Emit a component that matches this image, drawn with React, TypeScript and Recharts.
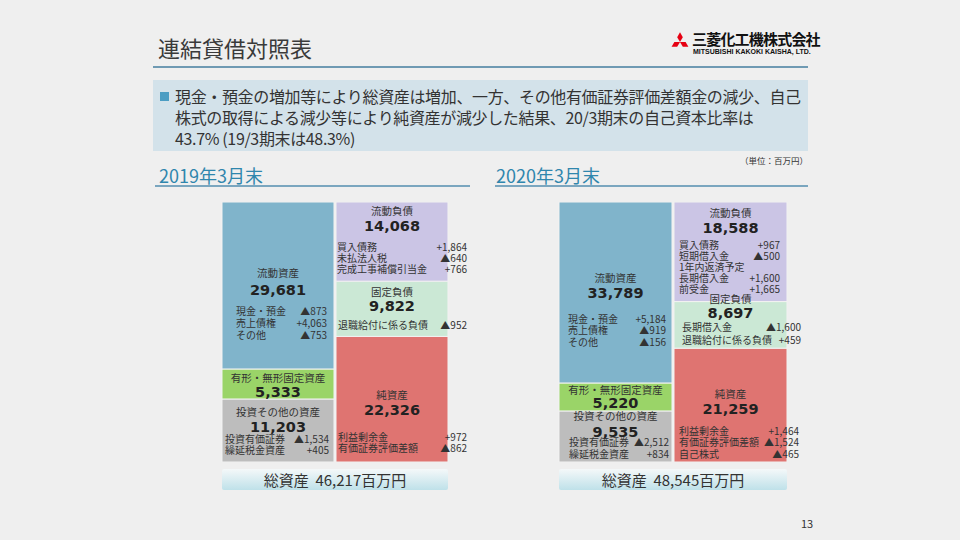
import React from 'react';
import { BarChart, Bar, XAxis, YAxis, Cell, LabelList } from 'recharts';

// 単位：百万円
const columns = ['資産', '負債・純資産'];
const assetNames = ['流動資産', '有形・無形固定資産', '投資その他の資産'];
const liabNames = ['流動負債', '固定負債', '純資産'];

const assets2019 = [29681, 5333, 11203];
const liabs2019 = [14068, 9822, 22326];
const assets2020 = [33789, 5220, 9535];
const liabs2020 = [18588, 8697, 21259];

const totals = [46217, 48545];
const periods = ['2019年3月末', '2020年3月末'];

type Note = [string, string];

const assetNotes2019: Note[][] = [
  [['現金・預金', '▲873'], ['売上債権', '+4,063'], ['その他', '▲753']],
  [],
  [['投資有価証券', '▲1,534'], ['繰延税金資産', '+405']],
];
const liabNotes2019: Note[][] = [
  [['買入債務', '+1,864'], ['未払法人税', '▲640'], ['完成工事補償引当金', '+766']],
  [['退職給付に係る負債', '▲952']],
  [['利益剰余金', '+972'], ['有価証券評価差額', '▲862']],
];
const assetNotes2020: Note[][] = [
  [['現金・預金', '+5,184'], ['売上債権', '▲919'], ['その他', '▲156']],
  [],
  [['投資有価証券', '▲2,512'], ['繰延税金資産', '+834']],
];
const liabNotes2020: Note[][] = [
  [['買入債務', '+967'], ['短期借入金', '▲500'], ['1年内返済予定', ''], ['長期借入金', '+1,600'], ['前受金', '+1,665']],
  [['長期借入金', '▲1,600'], ['退職給付に係る負債', '+459']],
  [['利益剰余金', '+1,464'], ['有価証券評価差額', '▲1,524'], ['自己株式', '▲465']],
];

const summaryLines = [
  '現金・預金の増加等により総資産は増加、一方、その他有価証券評価差額金の減少、自己',
  '株式の取得による減少等により純資産が減少した結果、20/3期末の自己資本比率は',
  '43.7% (19/3期末は48.3%)',
];

const KEYS = ['top', 'mid', 'bottom'];
const COLORS = [
  ['#80b4cb', '#9ad468', '#bdbdbd'],
  ['#cbc5e5', '#cbe8d5', '#df7471'],
];

// label placement inside each block: t = title offset from block top, v = value gap,
// g = first note gap, s = note spacing, l / r = note column insets
type Place = { t: number; v?: number; g?: number; s?: number; l?: number; r?: number };
const PLACE_2019: Place[][] = [
  [{ t: 70, v: 18, g: 38, s: 12, l: 14, r: -7 }, { t: 9, v: 14 }, { t: 13, g: 27, s: 11, l: 3, r: -5 }],
  [{ t: 8, v: 16, g: 36, s: 11, l: 1, r: 19 }, { t: 10, v: 15, g: 33, l: 2, r: 19 }, { t: 58, v: 16, g: 42, s: 11, l: 2, r: 19 }],
];
const PLACE_2020: Place[][] = [
  [{ t: 75, v: 16, g: 41, s: 11.5, l: 9, r: -6 }, { t: 7, v: 13 }, { t: 5, v: 16, g: 26, s: 12, l: 10, r: -3 }],
  [{ t: 10, v: 16, g: 32, s: 11, l: 5, r: -7 }, { t: -3, v: 14, g: 28, s: 12.5, l: 8, r: 14 }, { t: 45, v: 16, g: 37, s: 11.5, l: 5, r: 12 }],
];

const JP = "'Noto Sans CJK JP', sans-serif";

function makeRows(a: number[], b: number[]) {
  return columns.map((name, i) => {
    const v = i === 0 ? a : b;
    return { name, top: v[0], mid: v[1], bottom: v[2] };
  });
}

function BalanceChart({ rows, notes, place, total, left, width }: any) {
  const names = [assetNames, liabNames];
  const block = (seg: number) => (p: any) => {
    const { x, y, width: w, index } = p;
    const X = Number(x);
    const Y = Number(y);
    const W = Number(w);
    const pl: Place = place[index][seg];
    const cx = X + W / 2;
    const ty = Y + pl.t;
    const vy = ty + (pl.v ?? 15);
    const list: Note[] = notes[index][seg];
    const value = rows[index][KEYS[seg]];
    return (
      <g key={`lb-${index}-${seg}`} style={{ fontFamily: JP }}>
        <text x={cx} y={ty} textAnchor="middle" dominantBaseline="central" fontSize={10.5} fill="#333">
          {names[index][seg]}
        </text>
        <text x={cx} y={vy} textAnchor="middle" dominantBaseline="central" fontSize={14.5} fontWeight="bold"
          fill="#222" style={{ fontFamily: "'DejaVu Sans', sans-serif" }}>
          {value.toLocaleString('en-US')}
        </text>
        {list.map((n, k) => {
          const ny = ty + (pl.g ?? 30) + k * (pl.s ?? 11);
          return (
            <g key={k}>
              <text x={X + (pl.l ?? 4)} y={ny} dominantBaseline="central" fontSize={10} fill="#333">{n[0]}</text>
              <text x={X + W + (pl.r ?? 0)} y={ny} textAnchor="end" dominantBaseline="central" fontSize={10} fill="#333">{n[1]}</text>
            </g>
          );
        })}
      </g>
    );
  };

  return (
    <div style={{ position: 'absolute', left, top: 202 }}>
      <BarChart width={width + 30} height={260} data={rows} margin={{ top: 0, right: 30, bottom: 0, left: 0 }}
        barCategoryGap={1} style={{ overflow: 'visible' }}>
        <XAxis dataKey="name" hide />
        <YAxis hide domain={[0, total]} allowDataOverflow />
        {[2, 1, 0].map((seg) => (
          <Bar key={KEYS[seg]} dataKey={KEYS[seg]} stackId="bs" isAnimationActive={false}
            stroke="#f2f2f2" strokeWidth={1}>
            {rows.map((r: any, i: number) => (
              <Cell key={r.name} fill={COLORS[i][seg]} />
            ))}
            <LabelList dataKey={KEYS[seg]} content={block(seg)} />
          </Bar>
        ))}
      </BarChart>
    </div>
  );
}

function Logo() {
  const s = 5.6;
  const L = s * Math.sqrt(3);
  const cx = 10;
  const cy = 11;
  const pts = [0, 120, 240].map((deg) => {
    const r = (deg * Math.PI) / 180;
    const rot = (px: number, py: number) =>
      `${cx + px * Math.cos(r) - py * Math.sin(r)},${cy + px * Math.sin(r) + py * Math.cos(r)}`;
    return [rot(0, 0), rot(s / 2, -L / 2), rot(0, -L), rot(-s / 2, -L / 2)].join(' ');
  });
  return (
    <svg width={20} height={22} style={{ position: 'absolute', left: 670, top: 31 }}>
      {pts.map((p, i) => <polygon key={i} points={p} fill="#e60012" />)}
    </svg>
  );
}

export default function App() {
  const charts = [
    { rows: makeRows(assets2019, liabs2019), notes: [assetNotes2019, liabNotes2019], place: PLACE_2019, left: 221, width: 228 },
    { rows: makeRows(assets2020, liabs2020), notes: [assetNotes2020, liabNotes2020], place: PLACE_2020, left: 558, width: 230 },
  ];
  const heads = [{ x: 159, lx: 155, lw: 315 }, { x: 496, lx: 495, lw: 313 }];

  return (
    <div style={{ position: 'absolute', left: 0, top: 0, width: 960, height: 540, background: '#efefef',
      fontFamily: JP, color: '#333', overflow: 'hidden' }}>
      <div style={{ position: 'absolute', left: 158, top: 35, fontSize: 22, lineHeight: '24px', color: '#3a3a3a' }}>
        連結貸借対照表
      </div>
      <div style={{ position: 'absolute', left: 153, top: 66, width: 655, height: 2, background: '#6f9ab3' }} />
      <Logo />
      <div style={{ position: 'absolute', left: 692, top: 30, fontSize: 15, lineHeight: '18px', fontWeight: 'bold',
        color: '#111', letterSpacing: -0.8 }}>
        三菱化工機株式会社
      </div>
      <div style={{ position: 'absolute', left: 693, top: 48, fontSize: 7, lineHeight: '8px', fontWeight: 'bold',
        color: '#111', fontFamily: "'Liberation Sans Narrow', 'Liberation Sans', sans-serif", whiteSpace: 'nowrap' }}>
        MITSUBISHI KAKOKI KAISHA, LTD.
      </div>

      <div style={{ position: 'absolute', left: 153, top: 80, width: 655, height: 71, background: '#d3e2ea' }} />
      <div style={{ position: 'absolute', left: 160, top: 92, width: 9, height: 9, background: '#4b9dc3' }} />
      {summaryLines.map((t, i) => (
        <div key={i} style={{ position: 'absolute', left: 175, top: 86 + i * 21, fontSize: 16, lineHeight: '21px',
          whiteSpace: 'nowrap', color: '#333', letterSpacing: -0.35 }}>
          {t}
        </div>
      ))}
      <div style={{ position: 'absolute', right: 152, top: 154, fontSize: 8.5, lineHeight: '12px', color: '#333' }}>
        （単位：百万円）
      </div>

      {heads.map((h, i) => (
        <React.Fragment key={i}>
          <div style={{ position: 'absolute', left: h.x, top: 163, fontSize: 18, lineHeight: '24px', color: '#2f86ad' }}>
            {periods[i]}
          </div>
          <div style={{ position: 'absolute', left: h.lx, top: 185, width: h.lw, height: 1.5, background: '#7aa6bf' }} />
        </React.Fragment>
      ))}

      {charts.map((c, i) => (
        <React.Fragment key={i}>
          <BalanceChart rows={c.rows} notes={c.notes} place={c.place} total={totals[i]} left={c.left} width={c.width} />
          <div style={{ position: 'absolute', left: c.left + 1, top: 469, width: c.width - 2, height: 21,
            background: 'linear-gradient(#f4f8f9, #bfe1e9)', borderRadius: 2, display: 'flex', alignItems: 'center',
            justifyContent: 'center', fontSize: 15, color: '#333', whiteSpace: 'pre' }}>
            {`総資産  ${totals[i].toLocaleString('en-US')}百万円`}
          </div>
        </React.Fragment>
      ))}

      <div style={{ position: 'absolute', left: 801, top: 516, fontSize: 11, lineHeight: '14px', color: '#333' }}>13</div>
    </div>
  );
}
